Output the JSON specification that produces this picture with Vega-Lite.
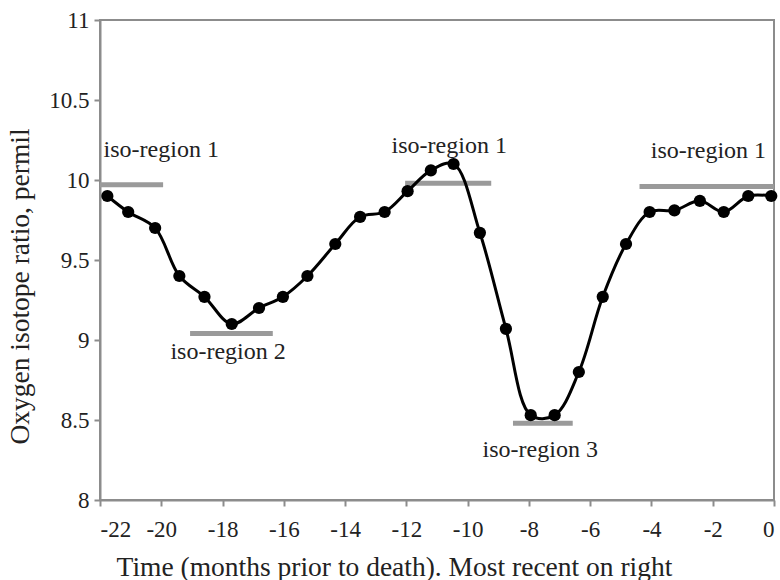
{
  "$schema": "https://vega.github.io/schema/vega-lite/v6.json",
  "width": 674,
  "height": 480,
  "autosize": "none",
  "padding": {"left": 100, "top": 20, "right": 6, "bottom": 80},
  "background": "white",
  "config": {
    "view": {"stroke": "#8c8c8c", "strokeWidth": 2},
    "font": "Liberation Serif",
    "axis": {
      "grid": false,
      "domainColor": "#8c8c8c",
      "domainWidth": 2,
      "tickColor": "#8c8c8c",
      "tickWidth": 2,
      "tickSize": 6,
      "labelFont": "Liberation Serif",
      "labelFontSize": 23,
      "labelColor": "#222222",
      "titleFont": "Liberation Serif",
      "titleFontSize": 27.5,
      "titleFontWeight": "normal",
      "titleColor": "#222222"
    }
  },
  "datasets": {
    "pts": [
      {"t": -21.76, "o": 9.90},
      {"t": -21.08, "o": 9.80},
      {"t": -20.20, "o": 9.70},
      {"t": -19.41, "o": 9.40},
      {"t": -18.59, "o": 9.27},
      {"t": -17.70, "o": 9.10},
      {"t": -16.81, "o": 9.20},
      {"t": -16.03, "o": 9.27},
      {"t": -15.23, "o": 9.40},
      {"t": -14.32, "o": 9.60},
      {"t": -13.51, "o": 9.77},
      {"t": -12.71, "o": 9.80},
      {"t": -11.96, "o": 9.93},
      {"t": -11.20, "o": 10.06},
      {"t": -10.46, "o": 10.10},
      {"t": -9.60, "o": 9.67},
      {"t": -8.75, "o": 9.07},
      {"t": -7.94, "o": 8.53},
      {"t": -7.16, "o": 8.53},
      {"t": -6.37, "o": 8.80},
      {"t": -5.59, "o": 9.27},
      {"t": -4.83, "o": 9.60},
      {"t": -4.06, "o": 9.80},
      {"t": -3.25, "o": 9.81},
      {"t": -2.42, "o": 9.87},
      {"t": -1.64, "o": 9.80},
      {"t": -0.84, "o": 9.90},
      {"t": -0.09, "o": 9.90}
    ],
    "bars": [
      {"x1": -22, "x2": -19.94, "y": 9.97},
      {"x1": -19.06, "x2": -16.36, "y": 9.04},
      {"x1": -12.04, "x2": -9.23, "y": 9.98},
      {"x1": -8.52, "x2": -6.57, "y": 8.48},
      {"x1": -4.39, "x2": 0, "y": 9.96}
    ],
    "labels": [
      {"x": -20.0, "y": 10.19, "text": "iso-region 1"},
      {"x": -17.82, "y": 8.925, "text": "iso-region 2"},
      {"x": -10.6, "y": 10.21, "text": "iso-region 1"},
      {"x": -7.63, "y": 8.31, "text": "iso-region 3"},
      {"x": -2.14, "y": 10.18, "text": "iso-region 1"}
    ]
  },
  "layer": [
    {
      "data": {"name": "bars"},
      "mark": {"type": "rule", "color": "#9a9a9a", "strokeWidth": 5},
      "encoding": {
        "x": {"field": "x1", "type": "quantitative", "scale": {"domain": [-22, 0], "nice": false},
          "axis": {"values": [-22, -20, -18, -16, -14, -12, -10, -8, -6, -4, -2, 0], "labelExpr": "toString(datum.value)", "labelPadding": 12, "titlePadding": 12, "titleX": 294, "titleAnchor": "middle"},
          "title": "Time (months prior to death). Most recent on right"},
        "x2": {"field": "x2"},
        "y": {"field": "y", "type": "quantitative", "scale": {"domain": [8, 11], "nice": false, "zero": false},
          "axis": {"values": [8, 8.5, 9, 9.5, 10, 10.5, 11], "labelExpr": "toString(datum.value)", "labelPadding": 5, "titlePadding": 14, "titleY": 266},
          "title": "Oxygen isotope ratio, permil"}
      }
    },
    {
      "data": {"name": "pts"},
      "mark": {"type": "line", "color": "black", "strokeWidth": 3, "interpolate": "catmull-rom"},
      "encoding": {
        "x": {"field": "t", "type": "quantitative"},
        "y": {"field": "o", "type": "quantitative"}
      }
    },
    {
      "data": {"name": "pts"},
      "mark": {"type": "point", "filled": true, "color": "black", "size": 150, "opacity": 1},
      "encoding": {
        "x": {"field": "t", "type": "quantitative"},
        "y": {"field": "o", "type": "quantitative"}
      }
    },
    {
      "data": {"name": "labels"},
      "mark": {"type": "text", "font": "Liberation Serif", "fontSize": 24, "color": "#222222", "align": "center", "baseline": "middle"},
      "encoding": {
        "x": {"field": "x", "type": "quantitative"},
        "y": {"field": "y", "type": "quantitative"},
        "text": {"field": "text"}
      }
    }
  ]
}
